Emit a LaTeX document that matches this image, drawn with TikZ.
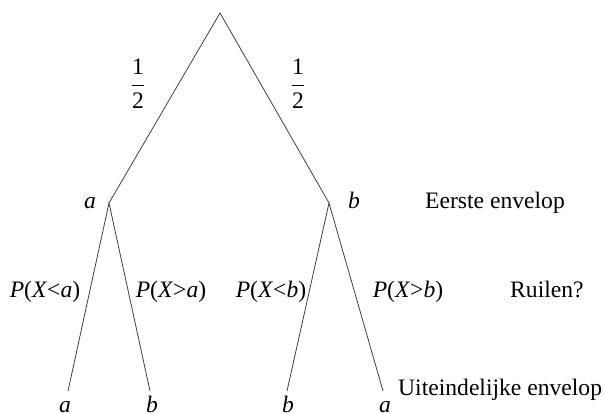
\documentclass[tikz,border=0pt]{standalone}
\usepackage{amsmath}
\usepackage{fontspec}
\setmainfont{Liberation Serif}
\begin{document}
\begin{tikzpicture}[x=1pt,y=-1pt,
  branch/.style={line width=0.8pt,draw=black!75},
  lbl/.style={inner sep=0pt,font=\fontsize{23.6}{28}\selectfont},
  blbl/.style={lbl,anchor=base},
  wlbl/.style={lbl,anchor=base west},
]
\useasboundingbox (0,0) rectangle (604,413);
% branch points
\coordinate (top) at (220,13);
\coordinate (na) at (109,203);
\coordinate (nb) at (329,203);
\coordinate (l1) at (68,391);
\coordinate (l2) at (150,391);
\coordinate (l3) at (287,391);
\coordinate (l4) at (383,391);
\draw[branch] (na) -- (top) -- (nb);
\draw[branch] (l1) -- (na) -- (l2);
\draw[branch] (l3) -- (nb) -- (l4);
% labels
\node[lbl] (h1) at (138,84) {$\displaystyle\frac{\textrm{1}}{\textrm{2}}$};
\node[lbl] (h2) at (298,84) {$\displaystyle\frac{\textrm{1}}{\textrm{2}}$};
\node[blbl] (ta) at (90,208) {\textit{a}};
\node[blbl] (tb) at (354,208) {\textit{b}};
\node[wlbl] (e1) at (425,208) {Eerste envelop};
\node[blbl] (p1) at (45,297) {\textit{P}(\textit{X}<\textit{a})};
\node[blbl] (p2) at (171,297) {\textit{P}(\textit{X}>\textit{a})};
\node[blbl] (p3) at (271,297) {\textit{P}(\textit{X}<\textit{b})};
\node[blbl] (p4) at (408,297) {\textit{P}(\textit{X}>\textit{b})};
\node[wlbl] (r) at (510,297) {Ruilen?};
\node[wlbl] (u) at (398,395) {Uiteindelijke envelop};
\node[blbl] (f1) at (65,412) {\textit{a}};
\node[blbl] (f2) at (152,412) {\textit{b}};
\node[blbl] (f3) at (288,412) {\textit{b}};
\node[blbl] (f4) at (385,412) {\textit{a}};
\end{tikzpicture}
\end{document}
